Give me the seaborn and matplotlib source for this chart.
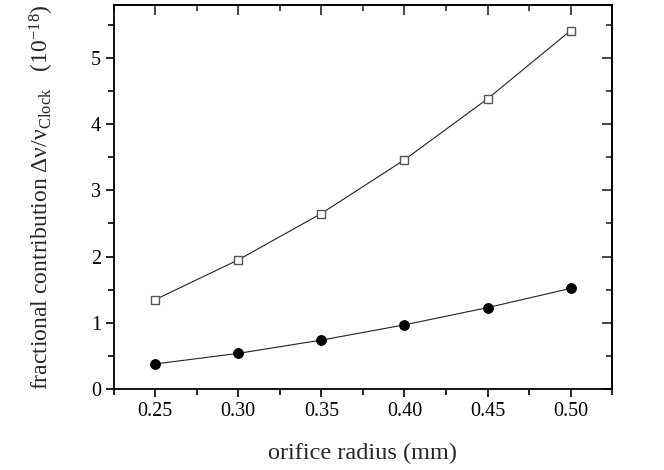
import matplotlib
matplotlib.use("Agg")
import matplotlib.pyplot as plt
from matplotlib.ticker import MultipleLocator
import seaborn as sns
import pandas as pd

# Dati
raggio = [0.25, 0.30, 0.35, 0.40, 0.45, 0.50]
serie_quadrati = [1.35, 1.95, 2.65, 3.46, 4.38, 5.41]
serie_cerchi = [0.38, 0.54, 0.74, 0.97, 1.23, 1.52]

sns.set_theme(style="ticks")
plt.rcParams['font.family'] = ['Liberation Serif', 'DejaVu Serif']
plt.rcParams['mathtext.fontset'] = 'custom'
plt.rcParams['mathtext.rm'] = 'Liberation Serif'
plt.rcParams['mathtext.it'] = 'Liberation Serif:italic'

df = pd.DataFrame({'raggio': raggio, 'quadrati': serie_quadrati, 'cerchi': serie_cerchi})

fig = plt.figure(figsize=(6.64, 4.70), dpi=100)
ax = fig.add_axes([0.171, 0.172, 0.751, 0.818])

sns.lineplot(data=df, x='raggio', y='quadrati', ax=ax, color='#222222', linewidth=0.8,
             marker='s', markersize=6.3, markerfacecolor='white',
             markeredgecolor='#555555', markeredgewidth=1.0)
sns.lineplot(data=df, x='raggio', y='cerchi', ax=ax, color='#222222', linewidth=0.8,
             marker='o', markersize=7, markerfacecolor='black',
             markeredgecolor='black')

ax.set_xlim(0.225, 0.525)
ax.set_ylim(0, 5.8)
ax.xaxis.set_major_locator(MultipleLocator(0.05))
ax.xaxis.set_minor_locator(MultipleLocator(0.025))
ax.yaxis.set_major_locator(MultipleLocator(1))
ax.yaxis.set_minor_locator(MultipleLocator(0.5))
ax.xaxis.set_major_formatter(matplotlib.ticker.FormatStrFormatter('%.2f'))

for lato in ax.spines.values():
    lato.set_linewidth(1.3)
    lato.set_color('black')

ax.tick_params(which='both', direction='out', top=False, right=False,
               labelsize=14.5, colors='black', width=1.2)
ax.tick_params(which='major', length=6, pad=3)
ax.tick_params(which='minor', length=4)

# tacche interne su lato superiore e destro
sopra = ax.secondary_xaxis('top')
sopra.xaxis.set_major_locator(MultipleLocator(0.05))
sopra.xaxis.set_minor_locator(MultipleLocator(0.025))
sopra.tick_params(which='both', direction='in', labeltop=False, width=1.2)
sopra.tick_params(which='major', length=7)
sopra.tick_params(which='minor', length=4)
destra = ax.secondary_yaxis('right')
destra.yaxis.set_major_locator(MultipleLocator(1))
destra.yaxis.set_minor_locator(MultipleLocator(0.5))
destra.tick_params(which='both', direction='in', labelright=False, width=1.2)
destra.tick_params(which='major', length=7)
destra.tick_params(which='minor', length=4)

ax.set_xlabel("orifice radius (mm)", fontsize=17.5, labelpad=16)
ax.set_ylabel("fractional contribution \u0394\u03bd/\u03bd$_{\\mathrm{Clock}}$   (10$^{\\mathrm{-18}}$)",
              fontsize=17, labelpad=25)

fig.savefig("out.png", dpi=100)
